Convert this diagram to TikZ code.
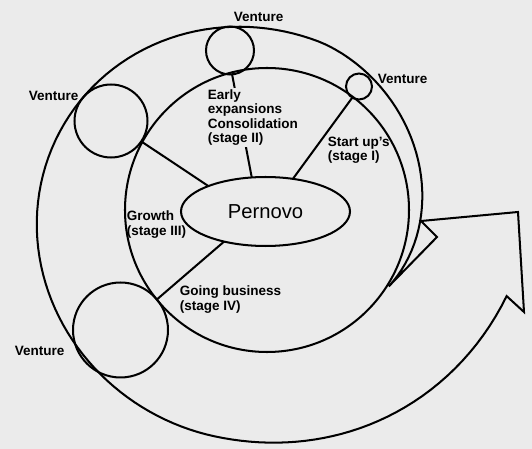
\documentclass[tikz,border=0pt]{standalone}
\usepackage{fontspec}
\setmainfont{Liberation Sans}
\usetikzlibrary{shapes.geometric}

\begin{document}
\begin{tikzpicture}[x=0.02cm,y=-0.02cm,line width=1.15pt,
  declare function={spir(\t)=210+6*cos(2*(\t-210))+49*(max(0,(100-\t)/86.4))^2
    -0.078*max(0,\t-290)*sqrt(max(0,\t-290));},
  venture/.style={circle,draw,inner sep=0pt,outer sep=0pt},
  lbl/.style={font=\bfseries\fontsize{7.7}{8.2}\selectfont,align=left,inner sep=1pt,anchor=west}]
\path[use as bounding box,fill=black!8] (0,0) rectangle (532,449);
% ring and arrow
\draw (267,210) circle[radius=142];
\draw[line join=miter] plot[domain=13.6:380.7,samples=150,variable=\t]
  ({250+spir(\t)*cos(\t)},{234+spir(\t)*sin(\t)})
  -- (437,237) -- (421,221) -- (518,212) -- (524,312) -- cycle;
% ventures
\node[venture,minimum size=0.96cm] (ventT) at (230,50.5) {};
\node[venture,minimum size=0.52cm] (ventS) at (359,86.5) {};
\node[venture,minimum size=1.46cm] (ventL) at (111,121) {};
\node[venture,minimum size=1.9cm] (ventB) at (120.5,330) {};
\node[ellipse,draw,minimum width=3.38cm,minimum height=1.38cm,inner sep=0pt,outer sep=0pt,
  font=\fontsize{11.5}{13}\selectfont] (pernovo) at (265.5,211.5) {Pernovo};
\draw (ventT.-85) -- (pernovo.112);
\draw (ventS.-121) -- (pernovo.50);
\draw (ventL.-34) -- (pernovo.156);
\draw (ventB.40) -- (pernovo.216);
% labels
\node[lbl] (vtT) at (231,17) {Venture};
\node[lbl] (vtS) at (375,79) {Venture};
\node[lbl] (vtL) at (26,96) {Venture};
\node[lbl] (vtB) at (12,351) {Venture};
\node[lbl,fill=black!8] (stageII) at (205,117.5) {Early\\expansions\\Consolidation\\(stage II)};
\node[lbl] (stageI) at (325,150) {Start up's\\(stage I)};
\node[lbl] (stageIII) at (124,224.5) {Growth\\(stage III)};
\node[lbl] (stageIV) at (177,299.5) {Going business\\(stage IV)};
\end{tikzpicture}
\end{document}
